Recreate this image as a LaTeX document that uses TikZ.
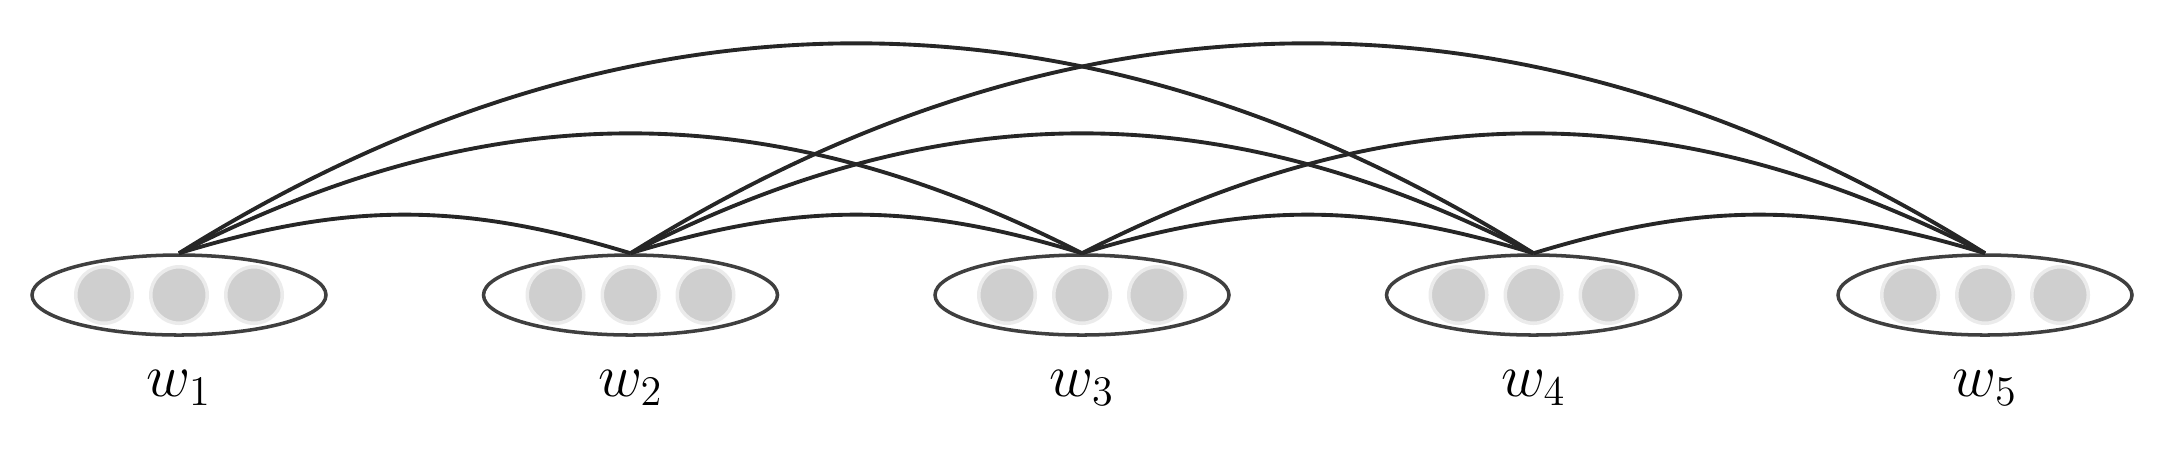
\documentclass[tikz,border=0pt]{standalone}
\usetikzlibrary{shapes.geometric}
\definecolor{edgegray}{HTML}{262626}
\definecolor{ringgray}{HTML}{3F3F3F}
\definecolor{unitfill}{HTML}{CFCFCF}
\definecolor{unitrim}{HTML}{EBEBEB}
\begin{document}
\begin{tikzpicture}[font=\fontsize{18}{22}\selectfont,
  word/.style={draw=ringgray, ellipse, line width=1pt, minimum width=2.94cm, minimum height=0.80cm, inner sep=0pt},
  unit/.style={circle, fill=unitfill, draw=unitrim, line width=1pt, minimum size=0.565cm, inner sep=0pt},
  link/.style={draw=edgegray, line width=1.1pt}]

\useasboundingbox (0,0) rectangle (21.66,4.49);

% Words
\node[word] (w1) at (1.79,1.54) {};
\node[word] (w2) at (6.305,1.54) {};
\node[word] (w3) at (10.82,1.54) {};
\node[word] (w4) at (15.335,1.54) {};
\node[word] (w5) at (19.85,1.54) {};

% Units
\node[unit] (u11) at (1.04,1.54) {};
\node[unit] (u12) at (1.79,1.54) {};
\node[unit] (u13) at (2.54,1.54) {};
\node[unit] (u21) at (5.555,1.54) {};
\node[unit] (u22) at (6.305,1.54) {};
\node[unit] (u23) at (7.055,1.54) {};
\node[unit] (u31) at (10.07,1.54) {};
\node[unit] (u32) at (10.82,1.54) {};
\node[unit] (u33) at (11.57,1.54) {};
\node[unit] (u41) at (14.585,1.54) {};
\node[unit] (u42) at (15.335,1.54) {};
\node[unit] (u43) at (16.085,1.54) {};
\node[unit] (u51) at (19.10,1.54) {};
\node[unit] (u52) at (19.85,1.54) {};
\node[unit] (u53) at (20.60,1.54) {};

% Labels
\node (l1) at (1.79,0.61) {$w_1$};
\node (l2) at (6.305,0.61) {$w_2$};
\node (l3) at (10.82,0.61) {$w_3$};
\node (l4) at (15.335,0.61) {$w_4$};
\node (l5) at (19.85,0.61) {$w_5$};

% Links
\draw[link] (w1.north) to[out=17, in=163] (w2.north);
\draw[link] (w2.north) to[out=17, in=163] (w3.north);
\draw[link] (w3.north) to[out=17, in=163] (w4.north);
\draw[link] (w4.north) to[out=17, in=163] (w5.north);
\draw[link] (w1.north) to[out=27, in=153] (w3.north);
\draw[link] (w2.north) to[out=27, in=153] (w4.north);
\draw[link] (w3.north) to[out=27, in=153] (w5.north);
\draw[link] (w1.north) to[out=32, in=148] (w4.north);
\draw[link] (w2.north) to[out=32, in=148] (w5.north);

\end{tikzpicture}
\end{document}
